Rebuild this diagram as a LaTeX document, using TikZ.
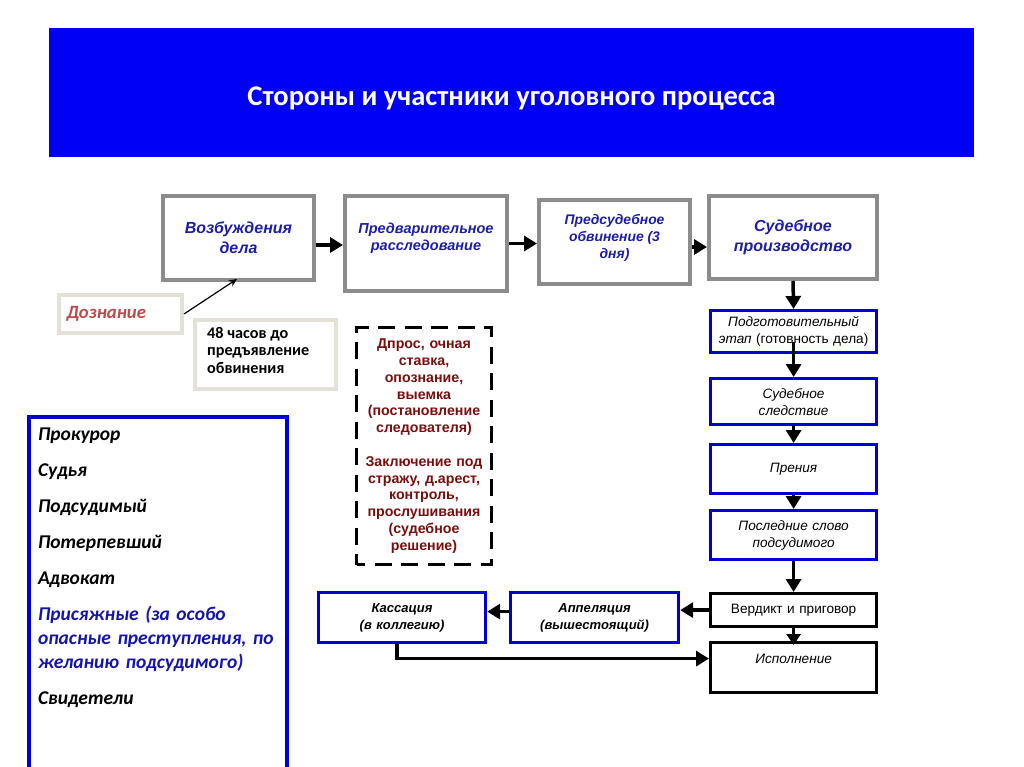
\documentclass[tikz,border=0pt]{standalone}
\usepackage{fontspec}
\setmainfont{Liberation Sans}
\newfontfamily\carl{Carlito}
\usetikzlibrary{arrows.meta}
\definecolor{titleblue}{RGB}{0,0,245}
\definecolor{flowblue}{RGB}{30,30,165}
\definecolor{boxgray}{RGB}{140,140,140}
\definecolor{boxblue}{RGB}{0,0,210}
\definecolor{paleborder}{RGB}{228,225,216}
\definecolor{doznred}{RGB}{185,75,75}
\definecolor{maroon}{RGB}{120,15,15}
\definecolor{listblue}{RGB}{20,20,170}
\begin{document}
\begin{tikzpicture}[x=1pt,y=-1pt,
  box/.style={anchor=north west,align=center,inner sep=2pt,fill=white},
  graybox/.style={box,draw=boxgray,line width=4pt,text=flowblue,
    font=\fontsize{16}{20}\selectfont\bfseries\itshape},
  flowtext/.style={align=center,inner sep=0pt,text=flowblue},
  bluebox/.style={box,draw=boxblue,line width=3.2pt,
    font=\fontsize{13.6}{17}\selectfont\itshape},
  blackbox/.style={box,draw=black,line width=3.2pt,
    font=\fontsize{13.6}{17}\selectfont},
  palebox/.style={box,draw=paleborder,line width=4pt},
  arr/.style={line width=3.5pt,-{Triangle[length=13pt,width=15pt]}},
  thinarr/.style={line width=1.2pt,-{Stealth[length=8pt,width=7pt]}}
]
\useasboundingbox (0,0) rectangle (1024,767);
\fill[white] (0,0) rectangle (1024,767);

% title
\node[anchor=north west,fill=titleblue,minimum width=925pt,minimum height=129pt,inner sep=0pt] (title) at (49,28) {};
\node[text=white,font=\carl\fontsize{28.5}{32}\selectfont\bfseries,inner sep=0pt] (titletext) at (511.5,98)
  {Стороны и участники уголовного процесса};

% top row
\node[graybox,minimum width=151pt,minimum height=84pt,text width=145pt] (b1) at (161,194)
  {Возбуждения\\дела};
\node[graybox,minimum width=162pt,minimum height=95pt] (b2) at (343,194) {};
\node[flowtext,font=\fontsize{14.5}{17}\selectfont\bfseries\itshape] (b2t) at ([yshift=5pt]b2.center)
  {Предварительное\\расследование};
\node[graybox,minimum width=151pt,minimum height=84pt] (b3) at (537,198) {};
\node[flowtext,font=\fontsize{13.9}{17}\selectfont\bfseries\itshape] (b3t) at ([yshift=4pt]b3.center)
  {Предсудебное\\обвинение (3\\дня)};
\node[graybox,minimum width=168pt,minimum height=83pt,text width=160pt] (b4) at (707,194)
  {Судебное\\производство};

\draw[arr] ([yshift=-7pt]b1.east) -- ([yshift=-7pt]b1.east -| b2.west);
\draw[arr] (b2.east) -- (b2.east -| b3.west);
\draw[arr] ([yshift=-5pt]b3.east) -- ([yshift=-5pt]b3.east -| b4.west);

% Дознание
\node[palebox,minimum width=123pt,minimum height=38pt,text width=112pt,align=left,
  text=doznred,font=\carl\fontsize{18.7}{20}\selectfont\bfseries\itshape] (dozn) at (57,293)
  {\hspace*{2pt}Дознание};
\coordinate (b1in) at (237,279);
\draw[thinarr] (dozn.east) -- (b1in);

% 48 hours
\node[palebox,minimum width=141pt,minimum height=69pt] (h48) at (193,318) {};
\node[anchor=west,align=left,inner sep=0pt,font=\carl\fontsize{16.2}{17.5}\selectfont\bfseries] (h48t) at (207,350)
  {48 часов до\\предъявление\\обвинения};

% dashed box
\node[box,draw=black,line width=3pt,dash pattern=on 17pt off 9.5pt,dash phase=8.5pt,
  minimum width=134pt,minimum height=237pt,text width=131pt,text=maroon,
  font=\fontsize{14.2}{16.8}\selectfont\bfseries] (dash) at (355,326)
  {Дпрос, очная\\ставка,\\опознание,\\выемка\\(постановление\\следователя)\\[16.8pt]Заключение под\\стражу, д.арест,\\контроль,\\прослушивания\\(судебное\\решение)};

% right column
\node[bluebox,minimum width=166pt,minimum height=42pt,text width=162pt] (prep) at (709,309)
  {Подготовительный\\этап \upshape(готовность дела)};
\node[bluebox,minimum width=166pt,minimum height=46pt,text width=160pt] (sled) at (709,377)
  {Судебное\\следствие};
\node[bluebox,minimum width=166pt,minimum height=49pt,text width=160pt] (pren) at (709,443)
  {Прения};
\node[bluebox,minimum width=166pt,minimum height=49pt,text width=160pt] (posl) at (709,509)
  {Последние слово\\подсудимого};
\node[blackbox,minimum width=166pt,minimum height=33pt,text width=160pt] (verd) at (709,592)
  {Вердикт и приговор};
\node[blackbox,minimum width=166pt,minimum height=50pt,text width=160pt,font=\fontsize{13.6}{17}\selectfont\itshape] (isp) at (709,641)
  {Исполнение\\\phantom{И}};

\draw[arr] (b4.south) -- (prep.north);
\draw[arr] ([yshift=12pt]prep.south) -- (sled.north);
\draw[arr] (sled.south) -- (pren.north);
\draw[arr] (pren.south) -- (posl.north);
\draw[arr] (posl.south) -- (verd.north);
\draw[line width=3.5pt,-{Triangle[length=11pt,width=14pt]}] (verd.south) -- ([yshift=-4pt]isp.north);

% bottom row
\node[bluebox,minimum width=167pt,minimum height=50pt,text width=160pt,
  font=\fontsize{13}{17}\selectfont\itshape] (kas) at (317,591)
  {\bfseries Кассация\\(в коллегию)};
\node[bluebox,minimum width=168pt,minimum height=50pt,text width=160pt,
  font=\fontsize{13}{17}\selectfont\itshape] (app) at (509,591)
  {\bfseries Аппеляция\\(вышестоящий)};

\draw[arr] (verd.west) -- (verd.west -| app.east);
\draw[arr] ([yshift=6pt]app.west) -- ([yshift=6pt]app.west -| kas.east);
\draw[arr] ([xshift=-5pt]kas.south) |- ([yshift=9pt]isp.west);

% participants list
\node[anchor=north west,draw=boxblue,line width=4pt,minimum width=258pt,minimum height=348pt,
  inner xsep=9pt,inner ysep=11pt,align=left,text width=240pt,
  font=\carl\fontsize{19.5}{24}\selectfont\bfseries\itshape] (list) at (27,415)
  {Прокурор\\[12pt]Судья\\[12pt]Подсудимый\\[12pt]Потерпевший\\[12pt]Адвокат\\[12pt]
   \textcolor{listblue}{Присяжные (за особо}\\\textcolor{listblue}{опасные преступления, по}\\\textcolor{listblue}{желанию подсудимого)}\\[12pt]Свидетели\\[50pt]\mbox{}};
\end{tikzpicture}
\end{document}
